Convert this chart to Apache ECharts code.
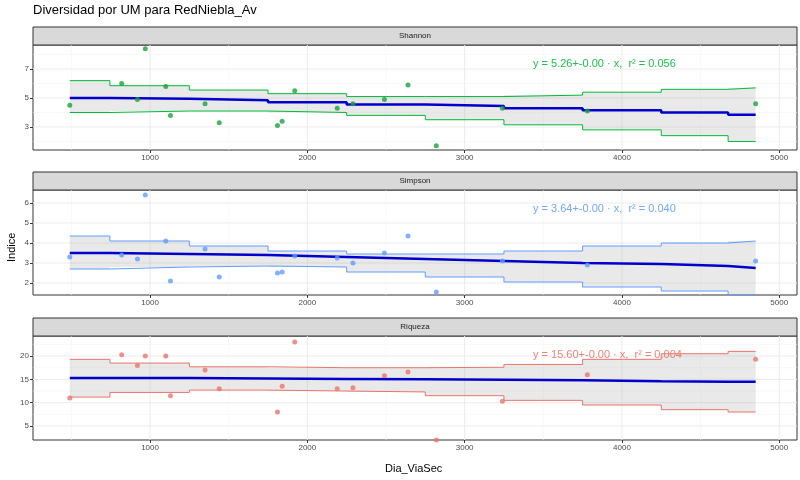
<!DOCTYPE html>
<html><head><meta charset="utf-8">
<script src="https://cdn.jsdelivr.net/npm/echarts@6/dist/echarts.min.js"></script>
<style>html,body{margin:0;background:#fff}#c{width:800px;height:480px}</style>
</head><body><div id="c"></div>
<script>
var dias = [490, 820, 920, 970, 1100, 1130, 1350, 1440, 1810, 1840, 1920, 2190, 2290, 2490, 2640, 2820, 3240, 3780, 4850];
var shannon = [4.5, 6.0, 4.9, 8.4, 5.8, 3.8, 4.6, 3.3, 3.1, 3.4, 5.5, 4.3, 4.6, 4.9, 5.9, 1.7, 4.3, 4.1, 4.6];
var simpson = [3.3, 3.4, 3.2, 6.4, 4.1, 2.1, 3.7, 2.3, 2.5, 2.55, 3.35, 3.25, 3.0, 3.5, 4.35, 1.55, 3.1, 2.9, 3.1];
var riqueza = [11, 20.3, 18, 20, 20, 11.5, 17, 13, 8, 13.5, 23, 13, 13.2, 15.8, 16.6, 2, 10.3, 16, 19.3];

var fitX = [490, 1000, 1500, 2000, 2500, 3000, 3500, 4000, 4500, 4850];
var shFit = [5.0, 4.95, 4.85, 4.7, 4.55, 4.45, 4.3, 4.15, 4.0, 3.85];
var shUp = [6.2, 5.85, 5.55, 5.3, 5.1, 5.1, 5.2, 5.4, 5.6, 5.7];
var shLo = [4.0, 4.1, 4.1, 4.0, 3.8, 3.5, 3.15, 2.8, 2.4, 2.0];
var siFit = [3.5, 3.45, 3.4, 3.3, 3.2, 3.1, 3.0, 2.95, 2.85, 2.75];
var siUp = [4.35, 4.1, 3.85, 3.6, 3.45, 3.45, 3.6, 3.85, 4.0, 4.1];
var siLo = [2.7, 2.8, 2.85, 2.8, 2.55, 2.3, 2.05, 1.8, 1.6, 1.4];
var riFit = [15.3, 15.3, 15.2, 15.1, 15.0, 14.9, 14.8, 14.6, 14.5, 14.5];
var riUp = [19.3, 18.5, 17.7, 17.5, 17.5, 17.6, 18.2, 19.3, 20.5, 21];
var riLo = [11.2, 12.2, 12.7, 12.5, 12.3, 11.5, 10.5, 9.5, 8.5, 8.0];

var xTicks = [1000, 2000, 3000, 4000, 5000];
var xMinor = [500, 1500, 2500, 3500, 4500];
var panels = [
  {name: 'Shannon', vals: shannon, fit: shFit, up: shUp, lo: shLo, color: '#1aa340', bandColor: '#00ba38',
   min: 1.41, max: 8.66, ticks: [3, 5, 7], minor: [2, 4, 6, 8], eq: 'y = 5.26+-0.00 · x,  r² = 0.056', top: 45, h: 105},
  {name: 'Simpson', vals: simpson, fit: siFit, up: siUp, lo: siLo, color: '#619cff', bandColor: '#619cff',
   min: 1.4, max: 6.65, ticks: [2, 3, 4, 5, 6], minor: [], eq: 'y = 3.64+-0.00 · x,  r² = 0.040', top: 190, h: 105},
  {name: 'Riqueza', vals: riqueza, fit: riFit, up: riUp, lo: riLo, color: '#e8756b', bandColor: '#e8756b',
   min: 2.0, max: 24.3, ticks: [5, 10, 15, 20], minor: [7.5, 12.5, 17.5, 22.5], eq: 'y = 15.60+-0.00 · x,  r² = 0.004', top: 336, h: 104}
];

// step-middle points for a polygon edge
function stepPts(xs, ys) {
  var pts = [[xs[0], ys[0]]];
  for (var k = 1; k < xs.length; k++) {
    var m = (xs[k - 1] + xs[k]) / 2;
    pts.push([m, ys[k - 1]], [m, ys[k]]);
  }
  pts.push([xs[xs.length - 1], ys[ys.length - 1]]);
  return pts;
}

var grids = [], xAxes = [], yAxes = [], series = [], graphics = [];
var L = 33, W = 764;
graphics.push({type: 'text', left: 33, top: 4, style: {text: 'Diversidad por UM para RedNiebla_Av', fontSize: 13, fill: '#000', fontFamily: 'Liberation Sans'}});
graphics.push({type: 'text', x: 6, y: 262, rotation: Math.PI / 2, style: {text: 'Indice', fontSize: 11, fill: '#000', fontFamily: 'Liberation Sans'}});
graphics.push({type: 'text', left: 385, top: 463, style: {text: 'Dia_ViaSec', fontSize: 11, fill: '#000', fontFamily: 'Liberation Sans'}});

panels.forEach(function (p, i) {
  grids.push({left: L, top: p.top, width: W, height: p.h, show: true, borderColor: '#333', borderWidth: 1});
  xAxes.push({type: 'value', gridIndex: i, min: 256, max: 5113, splitLine: {show: false},
    axisLine: {show: false}, axisTick: {show: true, customValues: xTicks, length: 3, lineStyle: {color: '#333'}},
    axisLabel: {customValues: xTicks, fontSize: 8, color: '#4d4d4d', margin: 4, formatter: function (v) { return String(v); }}});
  yAxes.push({type: 'value', gridIndex: i, min: p.min, max: p.max, splitLine: {show: false},
    axisLine: {show: false}, axisTick: {show: true, customValues: p.ticks, length: 3, lineStyle: {color: '#333'}},
    axisLabel: {customValues: p.ticks, fontSize: 8, color: '#4d4d4d', margin: 4}});
  graphics.push({type: 'rect', shape: {x: L, y: p.top - 18, width: W, height: 18},
    style: {fill: '#d9d9d9', stroke: '#333', lineWidth: 1}});
  graphics.push({type: 'text', x: L + W / 2, y: p.top - 9, style: {text: p.name, fontSize: 8, fill: '#1a1a1a', align: 'center', verticalAlign: 'middle', fontFamily: 'Liberation Sans'}});

  var upPts = stepPts(fitX, p.up), loPts = stepPts(fitX, p.lo);
  // grid lines + band polygon
  series.push({type: 'custom', xAxisIndex: i, yAxisIndex: i, data: [0], silent: true, z: 0,
    renderItem: function (params, api) {
      var kids = [];
      function line(a, b, major) {
        var s = api.coord(a), e = api.coord(b);
        kids.push({type: 'line', shape: {x1: s[0], y1: s[1], x2: e[0], y2: e[1]},
          style: {stroke: major ? '#ebebeb' : '#f3f3f3', lineWidth: major ? 1 : 0.6}});
      }
      xTicks.forEach(function (v) { line([v, p.min], [v, p.max], true); });
      xMinor.forEach(function (v) { line([v, p.min], [v, p.max], false); });
      p.ticks.forEach(function (v) { line([256, v], [5113, v], true); });
      p.minor.forEach(function (v) { line([256, v], [5113, v], false); });
      var poly = upPts.concat(loPts.slice().reverse()).map(function (q) { return api.coord(q); });
      kids.push({type: 'polygon', shape: {points: poly}, style: {fill: 'rgba(153,153,153,0.22)'}});
      return {type: 'group', children: kids};
    }});
  [upPts, loPts].forEach(function (arr) {
    series.push({type: 'line', xAxisIndex: i, yAxisIndex: i, symbol: 'none', z: 2, silent: true,
      lineStyle: {width: 1, color: p.bandColor}, data: arr});
  });
  series.push({type: 'line', xAxisIndex: i, yAxisIndex: i, symbol: 'none', z: 3, silent: true,
    lineStyle: {width: 2.5, color: '#0000cc'}, data: stepPts(fitX, p.fit)});
  series.push({type: 'scatter', xAxisIndex: i, yAxisIndex: i, symbolSize: 5, z: 4,
    itemStyle: {color: p.color}, data: dias.map(function (x, k) { return [x, p.vals[k]]; })});
  graphics.push({type: 'text', left: 533, top: p.top + 13, z: 10,
    style: {text: p.eq, fontSize: 11, fill: p.bandColor, fontFamily: 'Liberation Sans Narrow, Liberation Sans', opacity: 0.9}});
});

var chart = echarts.init(document.getElementById('c'));
chart.setOption({animation: false, grid: grids, xAxis: xAxes, yAxis: yAxes, series: series, graphic: graphics});
</script></body></html>
